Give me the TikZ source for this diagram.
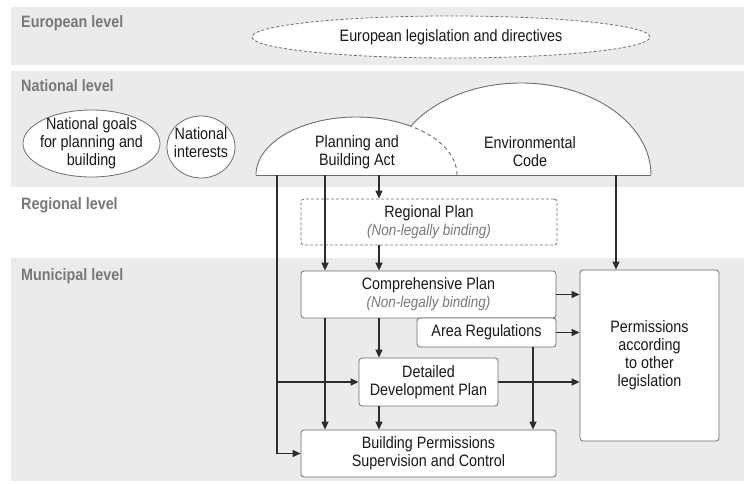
\documentclass[tikz,border=0pt]{standalone}
\usepackage{fontspec}
\setmainfont{Liberation Sans}[FakeStretch=0.87]
\usetikzlibrary{arrows.meta,shapes.geometric}

\definecolor{band}{RGB}{235,235,235}
\definecolor{lvl}{RGB}{120,120,120}
\definecolor{edgecol}{RGB}{110,110,110}
\definecolor{linecol}{RGB}{45,45,45}
\definecolor{notecol}{RGB}{120,120,120}

% italic remark under a plan title
\newcommand\nonbinding{{\fontsize{15.5}{18}\selectfont\itshape\color{notecol}(Non-legally binding)}}

\begin{document}
\begin{tikzpicture}[x=1pt,y=-1pt,
  every node/.style={font=\fontsize{16.5}{18}\selectfont, text=black!90, align=center, inner sep=0pt},
  levellabel/.style={anchor=base west, font=\fontsize{16.5}{18}\selectfont\bfseries, text=lvl},
  planbox/.style={draw=edgecol, fill=white, rounded corners=3pt, line width=0.8pt},
  fineDash/.style={dash pattern=on 3pt off 2pt},
  lawshape/.style={draw=edgecol, fill=white, line width=0.8pt},
  flow/.style={draw=linecol, line width=1.3pt, -{Triangle[length=8pt,width=7pt]}},
  domeline/.style={draw=edgecol, line width=0.9pt}
]
\useasboundingbox (0,0) rectangle (744,484);

% level bands
\fill[band] (11,7) rectangle (744,65);
\fill[band] (11,71) rectangle (744,187);
\fill[band] (11,258) rectangle (744,481);

\node[levellabel] (lvEU)  at (21,28)  {European level};
\node[levellabel] (lvNat) at (21,92)  {National level};
\node[levellabel] (lvReg) at (21,209) {Regional level};
\node[levellabel] (lvMun) at (21,280) {Municipal level};

% European level
\node[lawshape, ellipse, fineDash, minimum width=398pt, minimum height=42pt] (eu) at (451,37) {};
\node (euTxt) at (eu) {European legislation and directives};

% National level
\node[lawshape, ellipse, minimum width=137pt, minimum height=67pt] (goals) at (91.5,143.5) {};
\node (goalsTxt) at (goals) {National goals\\for planning and\\building};
\node[lawshape, ellipse, minimum width=68pt, minimum height=62pt] (interests) at (201,147) {};
\node (interestsTxt) at (201,143) {National\\interests};

% the two acts as domes on a common base
\fill[white] plot[domain=0:180, samples=90] ({521+130*cos(\x)},{175-92*sin(\x)}) -- cycle;
\fill[white] plot[domain=0:180, samples=90] ({356.5+100.5*cos(\x)},{175-58*sin(\x)}) -- cycle;
\draw[domeline] plot[domain=0:148, samples=80] ({521+130*cos(\x)},{175-92*sin(\x)});
\draw[domeline] plot[domain=57.3:180, samples=70] ({356.5+100.5*cos(\x)},{175-58*sin(\x)});
\draw[domeline, dash pattern=on 4pt off 3pt] plot[domain=0:57.3, samples=40] ({356.5+100.5*cos(\x)},{175-58*sin(\x)});
\draw[domeline] (256,175) -- (651,175);

\node (pba) at (357,152) {Planning and\\Building Act};
\node (env) at (530,152) {Environmental\\Code};

% exits from the dome base
\coordinate (dA) at (277,175);
\coordinate (dB) at (325,175);
\coordinate (dC) at (379,175);
\coordinate (dE) at (616,175);
\coordinate (arX) at (533,0);

% plans and permissions
\node[planbox, fineDash, minimum width=256pt, minimum height=46pt] (rp) at (429,222) {Regional Plan\\\nonbinding};
\node[planbox, minimum width=255pt, minimum height=47pt] (cp) at (428.5,294.5) {Comprehensive Plan\\\nonbinding};
\node[planbox, minimum width=139pt, minimum height=29pt] (ar) at (486.5,332.5) {Area Regulations};
\node[planbox, minimum width=139pt, minimum height=48pt] (ddp) at (428.5,382) {Detailed\\Development Plan};
\node[planbox, minimum width=255pt, minimum height=47pt] (bp) at (428.5,453.5) {Building Permissions\\Supervision and Control};
\node[planbox, minimum width=139pt, minimum height=171pt] (perm) at (649.5,355.5) {Permissions\\according\\to other\\legislation};

% connectors
\draw[flow] (dA) |- (bp.west);
\draw[flow] (dA |- ddp.west) -- (ddp.west);
\draw[flow] (dB) -- (dB |- cp.north);
\draw[flow] (dC) -- (rp.north -| dC);
\draw[flow] (rp.south -| dC) -- (cp.north -| dC);
\draw[flow] (dE) -- (perm.north -| dE);
\draw[flow] (cp.east) -- (cp.east -| perm.west);
\draw[flow] (ar.east) -- (ar.east -| perm.west);
\draw[flow] (ddp.east) -- (ddp.east -| perm.west);
\draw[flow] (cp.south -| dB) -- (bp.north -| dB);
\draw[flow] (cp.south -| dC) -- (ddp.north -| dC);
\draw[flow] (ddp.south -| dC) -- (bp.north -| dC);
\draw[flow] (ar.south -| arX) -- (bp.north -| arX);
\end{tikzpicture}
\end{document}
